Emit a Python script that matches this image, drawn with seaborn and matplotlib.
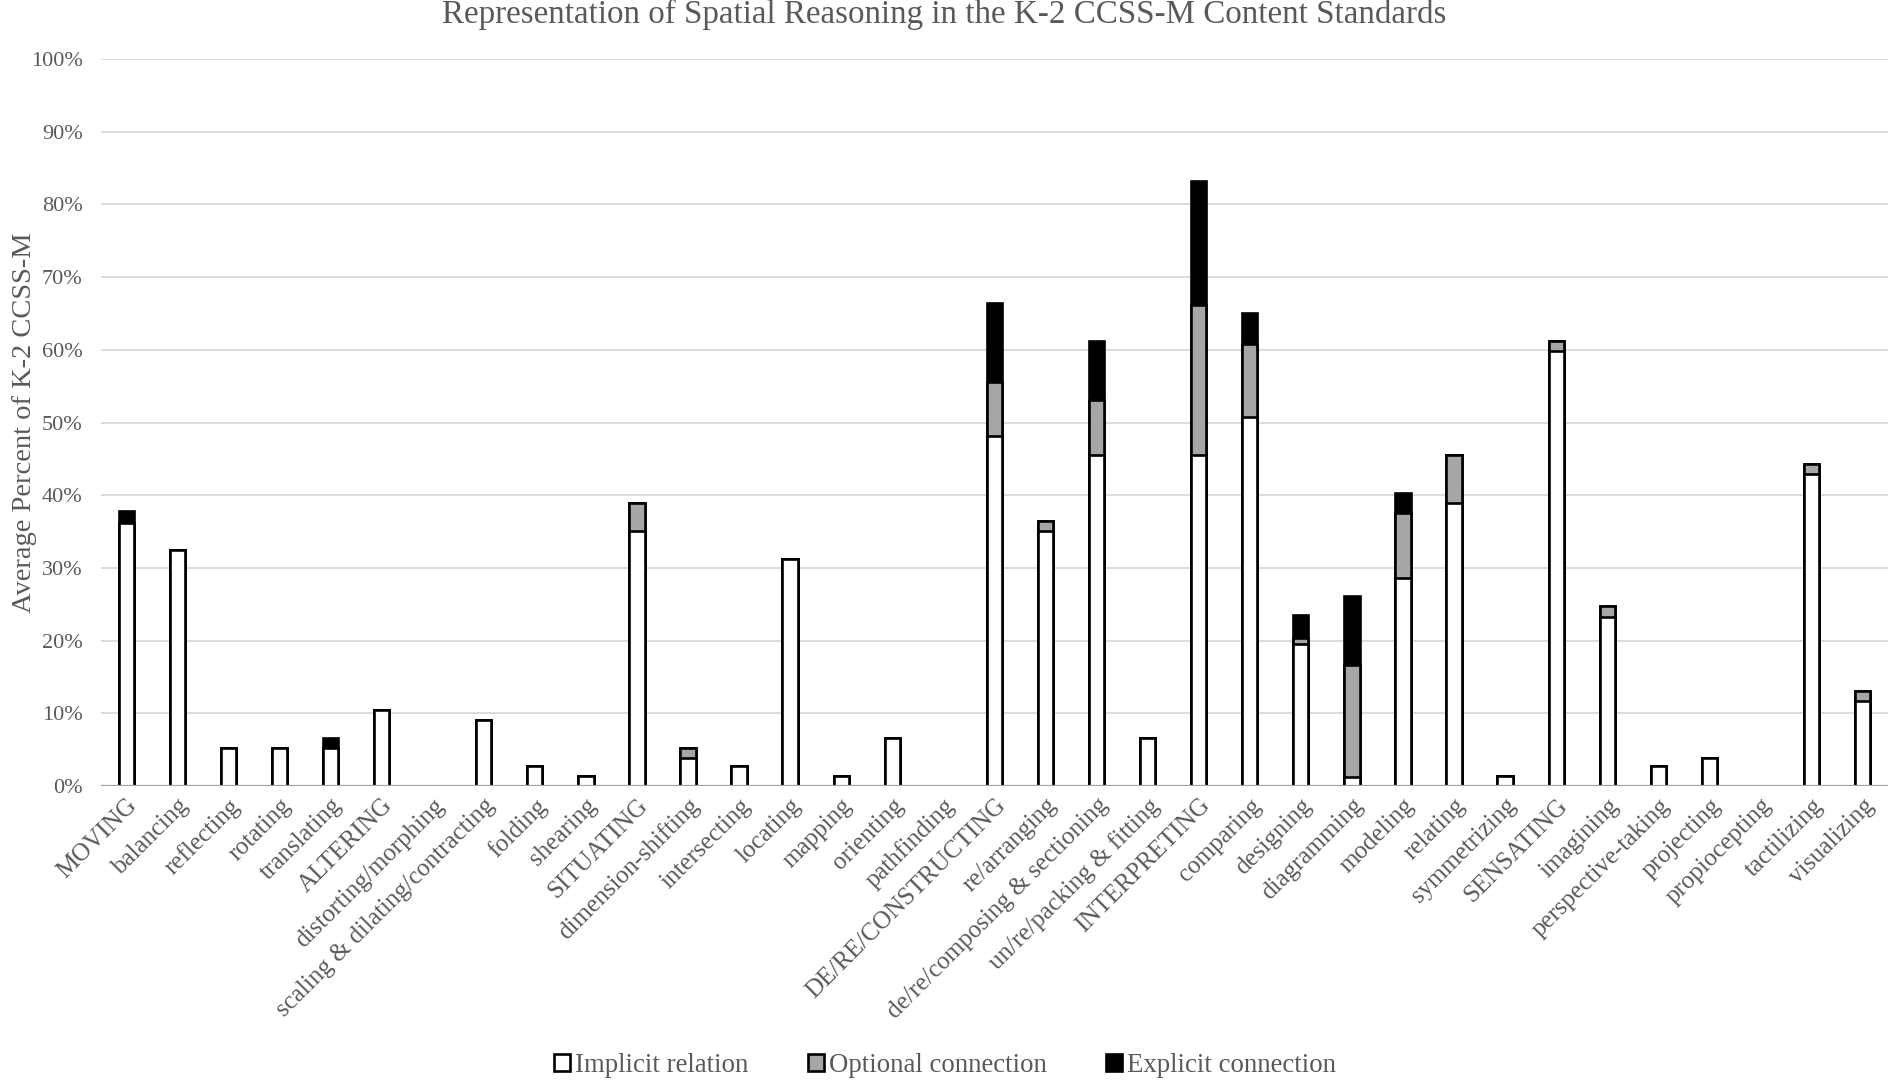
import matplotlib
matplotlib.use("Agg")
import matplotlib.pyplot as plt
from matplotlib.patches import Patch
import numpy as np
import pandas as pd
import seaborn as sns

categories = [
    "MOVING", "balancing", "reflecting", "rotating", "translating", "ALTERING",
    "distorting/morphing", "scaling & dilating/contracting", "folding", "shearing",
    "SITUATING", "dimension-shifting", "intersecting", "locating", "mapping",
    "orienting", "pathfinding", "DE/RE/CONSTRUCTING", "re/arranging",
    "de/re/composing & sectioning", "un/re/packing & fitting", "INTERPRETING",
    "comparing", "designing", "diagramming", "modeling", "relating",
    "symmetrizing", "SENSATING", "imagining", "perspective-taking", "projecting",
    "propiocepting", "tactilizing", "visualizing",
]
implicit = [36.2, 32.5, 5.2, 5.2, 5.2, 10.5, 0.0, 9.1, 2.7, 1.4,
            35.1, 3.9, 2.7, 31.2, 1.4, 6.6, 0.0, 48.2, 35.1, 45.5,
            6.6, 45.5, 50.8, 19.5, 1.3, 28.6, 39.0, 1.4, 59.8, 23.3,
            2.7, 3.9, 0.0, 42.9, 11.7]
optional = [0.0, 0.0, 0.0, 0.0, 0.0, 0.0, 0.0, 0.0, 0.0, 0.0,
            3.9, 1.3, 0.0, 0.0, 0.0, 0.0, 0.0, 7.4, 1.4, 7.6,
            0.0, 20.6, 10.0, 0.9, 15.4, 8.9, 6.5, 0.0, 1.4, 1.5,
            0.0, 0.0, 0.0, 1.4, 1.4]
explicit = [1.6, 0.0, 0.0, 0.0, 1.4, 0.0, 0.0, 0.0, 0.0, 0.0,
            0.0, 0.0, 0.0, 0.0, 0.0, 0.0, 0.0, 10.8, 0.0, 8.1,
            0.0, 17.1, 4.2, 3.1, 9.4, 2.8, 0.0, 0.0, 0.0, 0.0,
            0.0, 0.0, 0.0, 0.0, 0.0]
series_names = ["Implicit relation", "Optional connection", "Explicit connection"]
series_colors = ["#ffffff", "#a6a6a6", "#000000"]
yticks = list(range(0, 101, 10))

TEXT = "#595959"

sns.set_theme(style="white")
plt.rcParams["font.family"] = ["Liberation Serif", "DejaVu Serif"]

df = pd.DataFrame({"category": categories, "implicit": implicit,
                   "optional": optional, "explicit": explicit})
df["lvl1"] = df["implicit"]
df["lvl2"] = df["implicit"] + df["optional"]
df["lvl3"] = df["lvl2"] + df["explicit"]

fig = plt.figure(figsize=(18.9, 10.83), dpi=100)
ax = fig.add_axes([0.0533, 0.2742, 0.9457, 0.6713])

for col, color in [("lvl3", series_colors[2]), ("lvl2", series_colors[1]),
                   ("lvl1", series_colors[0])]:
    sns.barplot(data=df, x="category", y=col, color=color, saturation=1,
                width=0.3, edgecolor="black", linewidth=1.9, ax=ax,
                order=categories, zorder=3)

# hide outlines of empty bars
for p in ax.patches:
    if p.get_height() <= 0:
        p.set_linewidth(0)

ax.set_xlim(-0.5, len(categories) - 0.5)
ax.set_ylim(0, 100)
ax.set_yticks(yticks)
ax.set_yticklabels([f"{t}%" for t in yticks])
ax.grid(axis="y", color="#d9d9d9", linewidth=1.3, zorder=0)
ax.grid(axis="x", visible=False)
ax.set_axisbelow(True)
ax.axhline(0, color="#a0a0a0", linewidth=1.6, zorder=6)
for s in ax.spines.values():
    s.set_visible(False)
ax.tick_params(axis="y", length=0, pad=13, labelsize=16, labelcolor=TEXT)
ax.tick_params(axis="x", length=0, pad=6, labelsize=18, labelcolor=TEXT)
plt.setp(ax.get_xticklabels(), rotation=45, ha="right", va="top",
         rotation_mode="anchor")
ax.set_xlabel("")
ax.set_ylabel("")

fig.text(0.0065, 0.6099, "Average Percent of K-2 CCSS-M", rotation=90,
         ha="left", va="center", fontsize=20.5, color=TEXT)
fig.text(0.4995, 1 - 23 / 1083, "Representation of Spatial Reasoning in the K-2 CCSS-M Content Standards",
         ha="center", va="baseline", fontsize=23.8, color=TEXT)

handles = [Patch(facecolor=c, edgecolor="black", linewidth=1.9) for c in series_colors]
leg = fig.legend(handles, series_names, loc="center", bbox_to_anchor=(0.5, 0.016),
                 ncol=3, frameon=False, fontsize=19.3, handlelength=0.6,
                 handleheight=0.6, handletextpad=0.2, columnspacing=2.2)
for t in leg.get_texts():
    t.set_color(TEXT)

fig.savefig("out.png", dpi=100)
